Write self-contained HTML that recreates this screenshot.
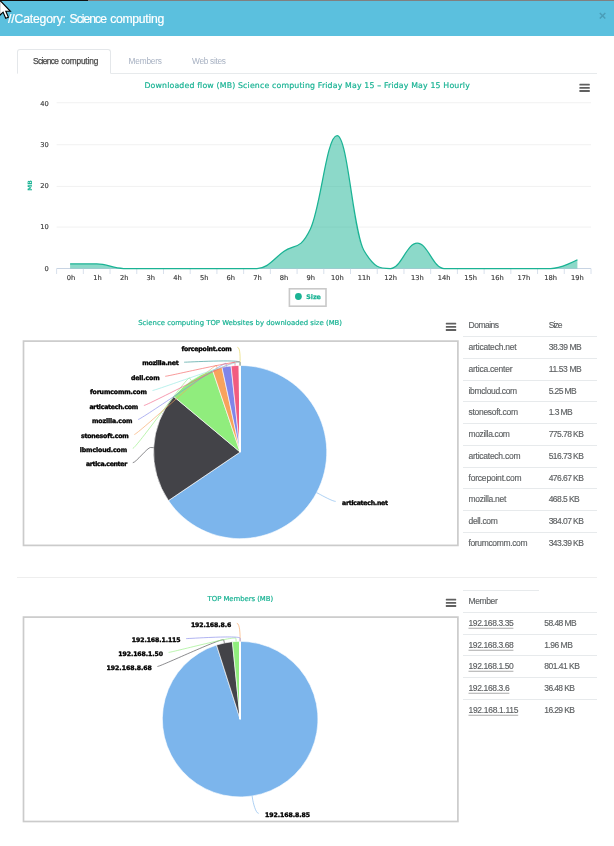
<!DOCTYPE html><html><head><meta charset="utf-8"><title>Category: Science computing</title><style>
html,body{margin:0;padding:0;background:#fff;}body{width:614px;height:846px;position:relative;overflow:hidden;font-family:"Liberation Sans", sans-serif;}
.t{position:absolute;white-space:nowrap;line-height:1;transform:translateY(-50%);}
.l{position:absolute;height:0;border-top:1px solid #e7eaec;}
svg{position:absolute;left:0;top:0;}
</style></head><body>
<div style="position:absolute;left:0;top:0;width:614px;height:1.3px;background:#808080"></div><div style="position:absolute;left:0;top:0;width:88px;height:1.3px;background:#111"></div>
<div style="position:absolute;left:0;top:1.3px;width:614px;height:34.8px;background:#5bc0de"></div>
<div style="position:absolute;left:17px;top:73px;width:580px;height:0;border-top:1px solid #e7eaec"></div>
<div style="position:absolute;left:17px;top:48.8px;width:91.6px;height:23.2px;border:1px solid #e4e7ea;border-bottom:1px solid #fff;border-radius:3px 3px 0 0;background:#fff"></div>
<div class="l" style="left:463.3px;top:336.30px;width:133.6px;"></div>
<div class="l" style="left:463.3px;top:358.02px;width:133.6px;"></div>
<div class="l" style="left:463.3px;top:379.74px;width:133.6px;"></div>
<div class="l" style="left:463.3px;top:401.46px;width:133.6px;"></div>
<div class="l" style="left:463.3px;top:423.18px;width:133.6px;"></div>
<div class="l" style="left:463.3px;top:444.90px;width:133.6px;"></div>
<div class="l" style="left:463.3px;top:466.62px;width:133.6px;"></div>
<div class="l" style="left:463.3px;top:488.34px;width:133.6px;"></div>
<div class="l" style="left:463.3px;top:510.06px;width:133.6px;"></div>
<div class="l" style="left:463.3px;top:531.78px;width:133.6px;"></div>
<div class="l" style="left:463.3px;top:590px;width:75.3px"></div>
<div class="l" style="left:463.3px;top:612.00px;width:133.6px;"></div>
<div class="l" style="left:463.3px;top:633.72px;width:133.6px;"></div>
<div class="l" style="left:463.3px;top:655.44px;width:133.6px;"></div>
<div class="l" style="left:463.3px;top:677.16px;width:133.6px;"></div>
<div class="l" style="left:463.3px;top:698.88px;width:133.6px;"></div>
<div class="l" style="left:17px;top:577px;width:580px;border-top-color:#eee"></div>
<svg width="614" height="846" viewBox="0 0 614 846">
<path d="M56.6 102.75 H591" stroke="#f1f1f1" stroke-width="1" fill="none"/>
<path d="M56.6 144.75 H591" stroke="#f1f1f1" stroke-width="1" fill="none"/>
<path d="M56.6 186.4 H591" stroke="#f1f1f1" stroke-width="1" fill="none"/>
<path d="M56.6 227.1 H591" stroke="#f1f1f1" stroke-width="1" fill="none"/>
<path d="M56.6 268.5 H591" stroke="#c8d4e3" stroke-width="1" fill="none"/>
<path d="M56.60 268.5 V274" stroke="#d8e0ec" stroke-width="1" fill="none"/>
<path d="M83.32 268.5 V274" stroke="#d8e0ec" stroke-width="1" fill="none"/>
<path d="M110.04 268.5 V274" stroke="#d8e0ec" stroke-width="1" fill="none"/>
<path d="M136.76 268.5 V274" stroke="#d8e0ec" stroke-width="1" fill="none"/>
<path d="M163.48 268.5 V274" stroke="#d8e0ec" stroke-width="1" fill="none"/>
<path d="M190.20 268.5 V274" stroke="#d8e0ec" stroke-width="1" fill="none"/>
<path d="M216.92 268.5 V274" stroke="#d8e0ec" stroke-width="1" fill="none"/>
<path d="M243.64 268.5 V274" stroke="#d8e0ec" stroke-width="1" fill="none"/>
<path d="M270.36 268.5 V274" stroke="#d8e0ec" stroke-width="1" fill="none"/>
<path d="M297.08 268.5 V274" stroke="#d8e0ec" stroke-width="1" fill="none"/>
<path d="M323.80 268.5 V274" stroke="#d8e0ec" stroke-width="1" fill="none"/>
<path d="M350.52 268.5 V274" stroke="#d8e0ec" stroke-width="1" fill="none"/>
<path d="M377.24 268.5 V274" stroke="#d8e0ec" stroke-width="1" fill="none"/>
<path d="M403.96 268.5 V274" stroke="#d8e0ec" stroke-width="1" fill="none"/>
<path d="M430.68 268.5 V274" stroke="#d8e0ec" stroke-width="1" fill="none"/>
<path d="M457.40 268.5 V274" stroke="#d8e0ec" stroke-width="1" fill="none"/>
<path d="M484.12 268.5 V274" stroke="#d8e0ec" stroke-width="1" fill="none"/>
<path d="M510.84 268.5 V274" stroke="#d8e0ec" stroke-width="1" fill="none"/>
<path d="M537.56 268.5 V274" stroke="#d8e0ec" stroke-width="1" fill="none"/>
<path d="M564.28 268.5 V274" stroke="#d8e0ec" stroke-width="1" fill="none"/>
<path d="M591.00 268.5 V274" stroke="#d8e0ec" stroke-width="1" fill="none"/>
<path d="M 70.10 263.94 C 70.10 263.94 86.12 263.94 96.80 263.94 C 107.48 263.94 112.82 268.50 123.50 268.50 C 134.18 268.50 139.52 268.50 150.20 268.50 C 160.88 268.50 166.22 268.50 176.90 268.50 C 187.58 268.50 192.92 268.50 203.60 268.50 C 214.28 268.50 219.62 268.50 230.30 268.50 C 240.98 268.50 246.32 268.50 257.00 268.50 C 267.68 268.50 273.02 259.37 283.70 251.49 C 294.38 243.60 299.72 251.49 310.40 229.07 C 321.08 206.66 326.42 135.70 337.10 135.70 C 347.78 135.70 353.12 231.98 363.80 250.24 C 374.48 268.50 379.82 268.50 390.50 268.50 C 401.18 268.50 406.52 243.19 417.20 243.19 C 427.88 243.19 433.22 268.50 443.90 268.50 C 454.58 268.50 459.92 268.50 470.60 268.50 C 481.28 268.50 486.62 268.50 497.30 268.50 C 507.98 268.50 513.32 268.50 524.00 268.50 C 534.68 268.50 540.02 268.50 550.70 268.50 C 561.38 268.50 577.40 259.79 577.40 259.79 L 577.40 268.5 L 70.10 268.5 Z" fill="#1ab394" fill-opacity="0.5" stroke="none"/>
<path d="M 70.10 263.94 C 70.10 263.94 86.12 263.94 96.80 263.94 C 107.48 263.94 112.82 268.50 123.50 268.50 C 134.18 268.50 139.52 268.50 150.20 268.50 C 160.88 268.50 166.22 268.50 176.90 268.50 C 187.58 268.50 192.92 268.50 203.60 268.50 C 214.28 268.50 219.62 268.50 230.30 268.50 C 240.98 268.50 246.32 268.50 257.00 268.50 C 267.68 268.50 273.02 259.37 283.70 251.49 C 294.38 243.60 299.72 251.49 310.40 229.07 C 321.08 206.66 326.42 135.70 337.10 135.70 C 347.78 135.70 353.12 231.98 363.80 250.24 C 374.48 268.50 379.82 268.50 390.50 268.50 C 401.18 268.50 406.52 243.19 417.20 243.19 C 427.88 243.19 433.22 268.50 443.90 268.50 C 454.58 268.50 459.92 268.50 470.60 268.50 C 481.28 268.50 486.62 268.50 497.30 268.50 C 507.98 268.50 513.32 268.50 524.00 268.50 C 534.68 268.50 540.02 268.50 550.70 268.50 C 561.38 268.50 577.40 259.79 577.40 259.79" fill="none" stroke="#1ab394" stroke-width="1.25" stroke-linejoin="round"/>
<rect x="289.4" y="288.8" width="36.6" height="17.4" fill="#fff" stroke="#c9c9c9" stroke-width="1.6"/>
<circle cx="298.4" cy="296.5" r="3.4" fill="#1ab394"/>
<rect x="579.4" y="83.69999999999999" width="10.4" height="1.8" rx="0.5" fill="#606060"/>
<rect x="579.4" y="86.89999999999999" width="10.4" height="1.8" rx="0.5" fill="#606060"/>
<rect x="579.4" y="90.1" width="10.4" height="1.8" rx="0.5" fill="#606060"/>
<rect x="445.8" y="322.70000000000005" width="10.4" height="1.8" rx="0.5" fill="#606060"/>
<rect x="445.8" y="325.90000000000003" width="10.4" height="1.8" rx="0.5" fill="#606060"/>
<rect x="445.8" y="329.1" width="10.4" height="1.8" rx="0.5" fill="#606060"/>
<rect x="445.8" y="598.7" width="10.4" height="1.8" rx="0.5" fill="#606060"/>
<rect x="445.8" y="601.9000000000001" width="10.4" height="1.8" rx="0.5" fill="#606060"/>
<rect x="445.8" y="605.1" width="10.4" height="1.8" rx="0.5" fill="#606060"/>
<text x="0" y="0" transform="translate(31.7,185.4) rotate(-90)" text-anchor="middle" font-family='"DejaVu Sans", sans-serif' font-size="6" fill="#1ab394" font-weight="700">MB</text>
<rect x="23.5" y="341.1" width="434.4" height="204.3" fill="#fff" stroke="#cbcbcb" stroke-width="1.7"/>
<rect x="23.5" y="617.1" width="434.4" height="204.4" fill="#fff" stroke="#cbcbcb" stroke-width="1.7"/>
<path d="M240.15 452.05 L240.15 365.45 A86.6 86.6 0 1 1 168.44 500.60 Z" fill="#7cb5ec" stroke="#fff" stroke-width="0.62" stroke-linejoin="round"/>
<path d="M240.15 452.05 L168.44 500.60 A86.6 86.6 0 0 1 173.71 396.50 Z" fill="#434348" stroke="#fff" stroke-width="0.62" stroke-linejoin="round"/>
<path d="M240.15 452.05 L173.71 396.50 A86.6 86.6 0 0 1 212.53 369.97 Z" fill="#90ed7d" stroke="#fff" stroke-width="0.62" stroke-linejoin="round"/>
<path d="M240.15 452.05 L212.53 369.97 A86.6 86.6 0 0 1 222.00 367.37 Z" fill="#f7a35c" stroke="#fff" stroke-width="0.62" stroke-linejoin="round"/>
<path d="M240.15 452.05 L222.00 367.37 A86.6 86.6 0 0 1 231.10 365.92 Z" fill="#8085e9" stroke="#fff" stroke-width="0.62" stroke-linejoin="round"/>
<path d="M240.15 452.05 L231.10 365.92 A86.6 86.6 0 0 1 239.09 365.46 Z" fill="#f15c80" stroke="#fff" stroke-width="0.62" stroke-linejoin="round"/>
<path d="M240.15 452.05 L239.09 365.46 A86.6 86.6 0 0 1 239.39 365.45 Z" fill="#e4d354" stroke="#fff" stroke-width="0.62" stroke-linejoin="round"/>
<path d="M240.15 452.05 L239.39 365.45 A86.6 86.6 0 0 1 239.62 365.45 Z" fill="#2b908f" stroke="#fff" stroke-width="0.62" stroke-linejoin="round"/>
<path d="M240.15 452.05 L239.62 365.45 A86.6 86.6 0 0 1 239.85 365.45 Z" fill="#f45b5b" stroke="#fff" stroke-width="0.62" stroke-linejoin="round"/>
<path d="M240.15 452.05 L239.85 365.45 A86.6 86.6 0 0 1 240.07 365.45 Z" fill="#91e8e1" stroke="#fff" stroke-width="0.62" stroke-linejoin="round"/>
<path d="M240.00 452.05 V365.25" stroke="#fff" stroke-width="1.9" fill="none"/>
<path d="M335.70 501.40 C332.60 501.40 322.13 495.55 319.39 494.09 L316.65 492.64" fill="none" stroke="#7cb5ec" stroke-width="0.62"/>
<path d="M132.80 462.70 C135.90 462.70 147.47 447.35 150.56 447.51 L153.66 447.67" fill="none" stroke="#434348" stroke-width="0.62"/>
<path d="M132.80 448.40 C135.90 448.40 187.79 375.43 189.54 377.99 L191.29 380.55" fill="none" stroke="#90ed7d" stroke-width="0.62"/>
<path d="M134.30 434.50 C137.40 434.50 215.58 362.56 216.41 365.55 L217.23 368.54" fill="none" stroke="#f7a35c" stroke-width="0.62"/>
<path d="M138.10 419.50 C141.20 419.50 225.55 360.41 226.04 363.47 L226.53 366.53" fill="none" stroke="#8085e9" stroke-width="0.62"/>
<path d="M143.90 405.50 C147.00 405.50 234.73 359.41 234.91 362.50 L235.09 365.60" fill="none" stroke="#f15c80" stroke-width="0.62"/>
<path d="M237.40 347.30 C240.50 347.30 240.10 359.25 240.10 362.35 L240.10 365.45" fill="none" stroke="#e4d354" stroke-width="0.62"/>
<path d="M184.20 362.20 C187.30 362.20 240.10 359.25 240.10 362.35 L240.10 365.45" fill="none" stroke="#2b908f" stroke-width="0.62"/>
<path d="M165.20 376.30 C168.30 376.30 240.10 359.25 240.10 362.35 L240.10 365.45" fill="none" stroke="#f45b5b" stroke-width="0.62"/>
<path d="M152.50 390.50 C155.60 390.50 240.10 359.25 240.10 362.35 L240.10 365.45" fill="none" stroke="#91e8e1" stroke-width="0.62"/>
<path d="M240.15 719.15 L240.15 641.35 A77.8 77.8 0 1 1 216.50 645.03 Z" fill="#7cb5ec" stroke="#fff" stroke-width="0.62" stroke-linejoin="round"/>
<path d="M240.15 719.15 L216.50 645.03 A77.8 77.8 0 0 1 232.42 641.73 Z" fill="#434348" stroke="#fff" stroke-width="0.62" stroke-linejoin="round"/>
<path d="M240.15 719.15 L232.42 641.73 A77.8 77.8 0 0 1 239.81 641.35 Z" fill="#90ed7d" stroke="#fff" stroke-width="0.62" stroke-linejoin="round"/>
<path d="M240.15 719.15 L239.81 641.35 A77.8 77.8 0 0 1 239.95 641.35 Z" fill="#f7a35c" stroke="#fff" stroke-width="0.62" stroke-linejoin="round"/>
<path d="M240.15 719.15 L239.95 641.35 A77.8 77.8 0 0 1 240.08 641.35 Z" fill="#8085e9" stroke="#fff" stroke-width="0.62" stroke-linejoin="round"/>
<path d="M240.00 719.15 V641.15" stroke="#fff" stroke-width="1.9" fill="none"/>
<path d="M258.70 813.40 C255.60 813.40 253.07 802.15 252.60 799.09 L252.12 796.02" fill="none" stroke="#7cb5ec" stroke-width="0.62"/>
<path d="M157.40 666.50 C160.50 666.50 223.12 636.90 223.74 639.93 L224.37 642.97" fill="none" stroke="#434348" stroke-width="0.62"/>
<path d="M168.60 652.40 C171.70 652.40 235.79 635.26 235.95 638.36 L236.11 641.45" fill="none" stroke="#90ed7d" stroke-width="0.62"/>
<path d="M236.80 623.30 C239.90 623.30 240.11 635.15 240.11 638.25 L240.11 641.35" fill="none" stroke="#f7a35c" stroke-width="0.62"/>
<path d="M186.20 638.60 C189.30 638.60 240.11 635.15 240.11 638.25 L240.11 641.35" fill="none" stroke="#8085e9" stroke-width="0.62"/>
<path d="M-0.4 0 L-0.4 15.5 L3.1 12.2 L5.7 18.3 L8.4 17.2 L5.8 11.3 L10.4 11.3 Z" fill="#fff" stroke="#000" stroke-width="1.1" stroke-linejoin="miter"/>
</svg>
<span class="t" id="t0" style='top:18.70px;font-size:12.2px;font-weight:400;color:#ffffff;font-family:"Liberation Sans", sans-serif;left:8.10px;letter-spacing:-0.173px;-webkit-text-stroke:0.2px #fff;'>//Category:</span>
<span class="t" id="t1" style='top:18.70px;font-size:12.2px;font-weight:400;color:#ffffff;font-family:"Liberation Sans", sans-serif;left:69.60px;letter-spacing:-0.993px;-webkit-text-stroke:0.2px #fff;'>Science</span>
<span class="t" id="t2" style='top:18.70px;font-size:12.2px;font-weight:400;color:#ffffff;font-family:"Liberation Sans", sans-serif;left:110.20px;letter-spacing:-0.279px;-webkit-text-stroke:0.2px #fff;'>computing</span>
<span class="t" id="t3" style='top:14.90px;font-size:13px;font-weight:700;color:#4a9db8;font-family:"Liberation Sans", sans-serif;left:598.80px;'>×</span>
<span class="t" id="t4" style='top:61.20px;font-size:8.3px;font-weight:400;color:#4a4a4a;font-family:"Liberation Sans", sans-serif;left:33.10px;letter-spacing:-0.622px;-webkit-text-stroke:0.25px #4a4a4a;'>Science</span>
<span class="t" id="t5" style='top:61.20px;font-size:8.3px;font-weight:400;color:#4a4a4a;font-family:"Liberation Sans", sans-serif;left:61.20px;letter-spacing:-0.148px;-webkit-text-stroke:0.25px #4a4a4a;'>computing</span>
<span class="t" id="t6" style='top:61.00px;font-size:8.3px;font-weight:400;color:#a7b1c2;font-family:"Liberation Sans", sans-serif;left:128.50px;letter-spacing:-0.180px;'>Members</span>
<span class="t" id="t7" style='top:61.00px;font-size:8.3px;font-weight:400;color:#a7b1c2;font-family:"Liberation Sans", sans-serif;left:192.00px;letter-spacing:-0.285px;'>Web sites</span>
<span class="t" id="t8" style='top:85.80px;font-size:7.8px;font-weight:400;color:#1ab394;font-family:"DejaVu Sans", "Liberation Sans", sans-serif;left:144.40px;letter-spacing:0.165px;-webkit-text-stroke:0.2px #1ab394;'>Downloaded flow (MB) Science computing Friday May 15 – Friday May 15 Hourly</span>
<span class="t" id="t9" style='top:103.90px;font-size:6.7px;font-weight:400;color:#3a3a3a;font-family:"DejaVu Sans", "Liberation Sans", sans-serif;right:565.30px;-webkit-text-stroke:0.15px #3a3a3a;'>40</span>
<span class="t" id="t10" style='top:145.10px;font-size:6.7px;font-weight:400;color:#3a3a3a;font-family:"DejaVu Sans", "Liberation Sans", sans-serif;right:565.30px;-webkit-text-stroke:0.15px #3a3a3a;'>30</span>
<span class="t" id="t11" style='top:186.20px;font-size:6.7px;font-weight:400;color:#3a3a3a;font-family:"DejaVu Sans", "Liberation Sans", sans-serif;right:565.30px;-webkit-text-stroke:0.15px #3a3a3a;'>20</span>
<span class="t" id="t12" style='top:227.20px;font-size:6.7px;font-weight:400;color:#3a3a3a;font-family:"DejaVu Sans", "Liberation Sans", sans-serif;right:565.30px;-webkit-text-stroke:0.15px #3a3a3a;'>10</span>
<span class="t" id="t13" style='top:268.60px;font-size:6.7px;font-weight:400;color:#3a3a3a;font-family:"DejaVu Sans", "Liberation Sans", sans-serif;right:565.30px;-webkit-text-stroke:0.15px #3a3a3a;'>0</span>
<span class="t" id="t14" style='top:277.70px;font-size:6.7px;font-weight:400;color:#3a3a3a;font-family:"DejaVu Sans", "Liberation Sans", sans-serif;left:70.90px;transform:translate(-50%,-50%);-webkit-text-stroke:0.15px #3a3a3a;'>0h</span>
<span class="t" id="t15" style='top:277.70px;font-size:6.7px;font-weight:400;color:#3a3a3a;font-family:"DejaVu Sans", "Liberation Sans", sans-serif;left:97.55px;transform:translate(-50%,-50%);-webkit-text-stroke:0.15px #3a3a3a;'>1h</span>
<span class="t" id="t16" style='top:277.70px;font-size:6.7px;font-weight:400;color:#3a3a3a;font-family:"DejaVu Sans", "Liberation Sans", sans-serif;left:124.20px;transform:translate(-50%,-50%);-webkit-text-stroke:0.15px #3a3a3a;'>2h</span>
<span class="t" id="t17" style='top:277.70px;font-size:6.7px;font-weight:400;color:#3a3a3a;font-family:"DejaVu Sans", "Liberation Sans", sans-serif;left:150.85px;transform:translate(-50%,-50%);-webkit-text-stroke:0.15px #3a3a3a;'>3h</span>
<span class="t" id="t18" style='top:277.70px;font-size:6.7px;font-weight:400;color:#3a3a3a;font-family:"DejaVu Sans", "Liberation Sans", sans-serif;left:177.50px;transform:translate(-50%,-50%);-webkit-text-stroke:0.15px #3a3a3a;'>4h</span>
<span class="t" id="t19" style='top:277.70px;font-size:6.7px;font-weight:400;color:#3a3a3a;font-family:"DejaVu Sans", "Liberation Sans", sans-serif;left:204.15px;transform:translate(-50%,-50%);-webkit-text-stroke:0.15px #3a3a3a;'>5h</span>
<span class="t" id="t20" style='top:277.70px;font-size:6.7px;font-weight:400;color:#3a3a3a;font-family:"DejaVu Sans", "Liberation Sans", sans-serif;left:230.80px;transform:translate(-50%,-50%);-webkit-text-stroke:0.15px #3a3a3a;'>6h</span>
<span class="t" id="t21" style='top:277.70px;font-size:6.7px;font-weight:400;color:#3a3a3a;font-family:"DejaVu Sans", "Liberation Sans", sans-serif;left:257.45px;transform:translate(-50%,-50%);-webkit-text-stroke:0.15px #3a3a3a;'>7h</span>
<span class="t" id="t22" style='top:277.70px;font-size:6.7px;font-weight:400;color:#3a3a3a;font-family:"DejaVu Sans", "Liberation Sans", sans-serif;left:284.10px;transform:translate(-50%,-50%);-webkit-text-stroke:0.15px #3a3a3a;'>8h</span>
<span class="t" id="t23" style='top:277.70px;font-size:6.7px;font-weight:400;color:#3a3a3a;font-family:"DejaVu Sans", "Liberation Sans", sans-serif;left:310.75px;transform:translate(-50%,-50%);-webkit-text-stroke:0.15px #3a3a3a;'>9h</span>
<span class="t" id="t24" style='top:277.70px;font-size:6.7px;font-weight:400;color:#3a3a3a;font-family:"DejaVu Sans", "Liberation Sans", sans-serif;left:337.40px;transform:translate(-50%,-50%);-webkit-text-stroke:0.15px #3a3a3a;'>10h</span>
<span class="t" id="t25" style='top:277.70px;font-size:6.7px;font-weight:400;color:#3a3a3a;font-family:"DejaVu Sans", "Liberation Sans", sans-serif;left:364.05px;transform:translate(-50%,-50%);-webkit-text-stroke:0.15px #3a3a3a;'>11h</span>
<span class="t" id="t26" style='top:277.70px;font-size:6.7px;font-weight:400;color:#3a3a3a;font-family:"DejaVu Sans", "Liberation Sans", sans-serif;left:390.70px;transform:translate(-50%,-50%);-webkit-text-stroke:0.15px #3a3a3a;'>12h</span>
<span class="t" id="t27" style='top:277.70px;font-size:6.7px;font-weight:400;color:#3a3a3a;font-family:"DejaVu Sans", "Liberation Sans", sans-serif;left:417.35px;transform:translate(-50%,-50%);-webkit-text-stroke:0.15px #3a3a3a;'>13h</span>
<span class="t" id="t28" style='top:277.70px;font-size:6.7px;font-weight:400;color:#3a3a3a;font-family:"DejaVu Sans", "Liberation Sans", sans-serif;left:444.00px;transform:translate(-50%,-50%);-webkit-text-stroke:0.15px #3a3a3a;'>14h</span>
<span class="t" id="t29" style='top:277.70px;font-size:6.7px;font-weight:400;color:#3a3a3a;font-family:"DejaVu Sans", "Liberation Sans", sans-serif;left:470.65px;transform:translate(-50%,-50%);-webkit-text-stroke:0.15px #3a3a3a;'>15h</span>
<span class="t" id="t30" style='top:277.70px;font-size:6.7px;font-weight:400;color:#3a3a3a;font-family:"DejaVu Sans", "Liberation Sans", sans-serif;left:497.30px;transform:translate(-50%,-50%);-webkit-text-stroke:0.15px #3a3a3a;'>16h</span>
<span class="t" id="t31" style='top:277.70px;font-size:6.7px;font-weight:400;color:#3a3a3a;font-family:"DejaVu Sans", "Liberation Sans", sans-serif;left:523.95px;transform:translate(-50%,-50%);-webkit-text-stroke:0.15px #3a3a3a;'>17h</span>
<span class="t" id="t32" style='top:277.70px;font-size:6.7px;font-weight:400;color:#3a3a3a;font-family:"DejaVu Sans", "Liberation Sans", sans-serif;left:550.60px;transform:translate(-50%,-50%);-webkit-text-stroke:0.15px #3a3a3a;'>18h</span>
<span class="t" id="t33" style='top:277.70px;font-size:6.7px;font-weight:400;color:#3a3a3a;font-family:"DejaVu Sans", "Liberation Sans", sans-serif;left:577.25px;transform:translate(-50%,-50%);-webkit-text-stroke:0.15px #3a3a3a;'>19h</span>
<span class="t" id="t34" style='top:296.50px;font-size:6.3px;font-weight:700;color:#1ab394;font-family:"DejaVu Sans", "Liberation Sans", sans-serif;left:306.20px;letter-spacing:0.020px;-webkit-text-stroke:0.25px #1ab394;'>Size</span>
<span class="t" id="t35" style='top:322.90px;font-size:6.9px;font-weight:400;color:#1ab394;font-family:"DejaVu Sans", "Liberation Sans", sans-serif;left:138.20px;letter-spacing:0.006px;-webkit-text-stroke:0.2px #1ab394;'>Science computing TOP Websites by downloaded size (MB)</span>
<span class="t" id="t36" style='top:598.80px;font-size:6.9px;font-weight:400;color:#1ab394;font-family:"DejaVu Sans", "Liberation Sans", sans-serif;left:207.60px;letter-spacing:-0.044px;-webkit-text-stroke:0.2px #1ab394;'>TOP Members (MB)</span>
<span class="t" id="t37" style='top:325.00px;font-size:8.5px;font-weight:400;color:#5e6163;font-family:"Liberation Sans", sans-serif;left:468.50px;letter-spacing:-0.491px;-webkit-text-stroke:0.15px #5e6163;'>Domains</span>
<span class="t" id="t38" style='top:325.00px;font-size:8.5px;font-weight:400;color:#5e6163;font-family:"Liberation Sans", sans-serif;left:548.70px;letter-spacing:-0.949px;-webkit-text-stroke:0.15px #5e6163;'>Size</span>
<span class="t" id="t39" style='top:347.30px;font-size:8.5px;font-weight:400;color:#5e6163;font-family:"Liberation Sans", sans-serif;left:468.50px;letter-spacing:-0.218px;-webkit-text-stroke:0.15px #5e6163;'>articatech.net</span>
<span class="t" id="t40" style='top:347.30px;font-size:8.5px;font-weight:400;color:#5e6163;font-family:"Liberation Sans", sans-serif;left:548.70px;letter-spacing:-0.470px;-webkit-text-stroke:0.15px #5e6163;'>38.39 MB</span>
<span class="t" id="t41" style='top:369.02px;font-size:8.5px;font-weight:400;color:#5e6163;font-family:"Liberation Sans", sans-serif;left:468.50px;letter-spacing:-0.232px;-webkit-text-stroke:0.15px #5e6163;'>artica.center</span>
<span class="t" id="t42" style='top:369.02px;font-size:8.5px;font-weight:400;color:#5e6163;font-family:"Liberation Sans", sans-serif;left:548.70px;letter-spacing:-0.381px;-webkit-text-stroke:0.15px #5e6163;'>11.53 MB</span>
<span class="t" id="t43" style='top:390.74px;font-size:8.5px;font-weight:400;color:#5e6163;font-family:"Liberation Sans", sans-serif;left:468.50px;letter-spacing:-0.340px;-webkit-text-stroke:0.15px #5e6163;'>ibmcloud.com</span>
<span class="t" id="t44" style='top:390.74px;font-size:8.5px;font-weight:400;color:#5e6163;font-family:"Liberation Sans", sans-serif;left:548.70px;letter-spacing:-0.609px;-webkit-text-stroke:0.15px #5e6163;'>5.25 MB</span>
<span class="t" id="t45" style='top:412.46px;font-size:8.5px;font-weight:400;color:#5e6163;font-family:"Liberation Sans", sans-serif;left:468.50px;letter-spacing:-0.285px;-webkit-text-stroke:0.15px #5e6163;'>stonesoft.com</span>
<span class="t" id="t46" style='top:412.46px;font-size:8.5px;font-weight:400;color:#5e6163;font-family:"Liberation Sans", sans-serif;left:548.70px;letter-spacing:-0.567px;-webkit-text-stroke:0.15px #5e6163;'>1.3 MB</span>
<span class="t" id="t47" style='top:434.18px;font-size:8.5px;font-weight:400;color:#5e6163;font-family:"Liberation Sans", sans-serif;left:468.50px;letter-spacing:-0.348px;-webkit-text-stroke:0.15px #5e6163;'>mozilla.com</span>
<span class="t" id="t48" style='top:434.18px;font-size:8.5px;font-weight:400;color:#5e6163;font-family:"Liberation Sans", sans-serif;left:548.70px;letter-spacing:-0.563px;-webkit-text-stroke:0.15px #5e6163;'>775.78 KB</span>
<span class="t" id="t49" style='top:455.90px;font-size:8.5px;font-weight:400;color:#5e6163;font-family:"Liberation Sans", sans-serif;left:468.50px;letter-spacing:-0.252px;-webkit-text-stroke:0.15px #5e6163;'>articatech.com</span>
<span class="t" id="t50" style='top:455.90px;font-size:8.5px;font-weight:400;color:#5e6163;font-family:"Liberation Sans", sans-serif;left:548.70px;letter-spacing:-0.563px;-webkit-text-stroke:0.15px #5e6163;'>516.73 KB</span>
<span class="t" id="t51" style='top:477.62px;font-size:8.5px;font-weight:400;color:#5e6163;font-family:"Liberation Sans", sans-serif;left:468.50px;letter-spacing:-0.204px;-webkit-text-stroke:0.15px #5e6163;'>forcepoint.com</span>
<span class="t" id="t52" style='top:477.62px;font-size:8.5px;font-weight:400;color:#5e6163;font-family:"Liberation Sans", sans-serif;left:548.70px;letter-spacing:-0.563px;-webkit-text-stroke:0.15px #5e6163;'>476.67 KB</span>
<span class="t" id="t53" style='top:499.34px;font-size:8.5px;font-weight:400;color:#5e6163;font-family:"Liberation Sans", sans-serif;left:468.50px;letter-spacing:-0.284px;-webkit-text-stroke:0.15px #5e6163;'>mozilla.net</span>
<span class="t" id="t54" style='top:499.34px;font-size:8.5px;font-weight:400;color:#5e6163;font-family:"Liberation Sans", sans-serif;left:548.70px;letter-spacing:-0.555px;-webkit-text-stroke:0.15px #5e6163;'>468.5 KB</span>
<span class="t" id="t55" style='top:521.06px;font-size:8.5px;font-weight:400;color:#5e6163;font-family:"Liberation Sans", sans-serif;left:468.50px;letter-spacing:-0.337px;-webkit-text-stroke:0.15px #5e6163;'>dell.com</span>
<span class="t" id="t56" style='top:521.06px;font-size:8.5px;font-weight:400;color:#5e6163;font-family:"Liberation Sans", sans-serif;left:548.70px;letter-spacing:-0.563px;-webkit-text-stroke:0.15px #5e6163;'>384.07 KB</span>
<span class="t" id="t57" style='top:542.78px;font-size:8.5px;font-weight:400;color:#5e6163;font-family:"Liberation Sans", sans-serif;left:468.50px;letter-spacing:-0.358px;-webkit-text-stroke:0.15px #5e6163;'>forumcomm.com</span>
<span class="t" id="t58" style='top:542.78px;font-size:8.5px;font-weight:400;color:#5e6163;font-family:"Liberation Sans", sans-serif;left:548.70px;letter-spacing:-0.563px;-webkit-text-stroke:0.15px #5e6163;'>343.39 KB</span>
<span class="t" id="t59" style='top:601.20px;font-size:8.5px;font-weight:400;color:#5e6163;font-family:"Liberation Sans", sans-serif;left:468.50px;letter-spacing:-0.377px;-webkit-text-stroke:0.15px #5e6163;'>Member</span>
<span class="t" id="t60" style='top:622.90px;font-size:8.5px;font-weight:400;color:#5e6163;font-family:"Liberation Sans", sans-serif;left:468.50px;letter-spacing:-0.395px;-webkit-text-stroke:0.15px #5e6163;text-decoration:underline;text-decoration-color:#aaa;text-underline-offset:2.2px;text-decoration-thickness:0.8px;'>192.168.3.35</span>
<span class="t" id="t61" style='top:622.90px;font-size:8.5px;font-weight:400;color:#5e6163;font-family:"Liberation Sans", sans-serif;left:544.30px;letter-spacing:-0.570px;-webkit-text-stroke:0.15px #5e6163;'>58.48 MB</span>
<span class="t" id="t62" style='top:644.62px;font-size:8.5px;font-weight:400;color:#5e6163;font-family:"Liberation Sans", sans-serif;left:468.50px;letter-spacing:-0.395px;-webkit-text-stroke:0.15px #5e6163;text-decoration:underline;text-decoration-color:#aaa;text-underline-offset:2.2px;text-decoration-thickness:0.8px;'>192.168.3.68</span>
<span class="t" id="t63" style='top:644.62px;font-size:8.5px;font-weight:400;color:#5e6163;font-family:"Liberation Sans", sans-serif;left:544.30px;letter-spacing:-0.526px;-webkit-text-stroke:0.15px #5e6163;'>1.96 MB</span>
<span class="t" id="t64" style='top:666.34px;font-size:8.5px;font-weight:400;color:#5e6163;font-family:"Liberation Sans", sans-serif;left:468.50px;letter-spacing:-0.395px;-webkit-text-stroke:0.15px #5e6163;text-decoration:underline;text-decoration-color:#aaa;text-underline-offset:2.2px;text-decoration-thickness:0.8px;'>192.168.1.50</span>
<span class="t" id="t65" style='top:666.34px;font-size:8.5px;font-weight:400;color:#5e6163;font-family:"Liberation Sans", sans-serif;left:544.30px;letter-spacing:-0.525px;-webkit-text-stroke:0.15px #5e6163;'>801.41 KB</span>
<span class="t" id="t66" style='top:688.06px;font-size:8.5px;font-weight:400;color:#5e6163;font-family:"Liberation Sans", sans-serif;left:468.50px;letter-spacing:-0.371px;-webkit-text-stroke:0.15px #5e6163;text-decoration:underline;text-decoration-color:#aaa;text-underline-offset:2.2px;text-decoration-thickness:0.8px;'>192.168.3.6</span>
<span class="t" id="t67" style='top:688.06px;font-size:8.5px;font-weight:400;color:#5e6163;font-family:"Liberation Sans", sans-serif;left:544.30px;letter-spacing:-0.626px;-webkit-text-stroke:0.15px #5e6163;'>36.48 KB</span>
<span class="t" id="t68" style='top:709.78px;font-size:8.5px;font-weight:400;color:#5e6163;font-family:"Liberation Sans", sans-serif;left:468.50px;letter-spacing:-0.311px;-webkit-text-stroke:0.15px #5e6163;text-decoration:underline;text-decoration-color:#aaa;text-underline-offset:2.2px;text-decoration-thickness:0.8px;'>192.168.1.115</span>
<span class="t" id="t69" style='top:709.78px;font-size:8.5px;font-weight:400;color:#5e6163;font-family:"Liberation Sans", sans-serif;left:544.30px;letter-spacing:-0.626px;-webkit-text-stroke:0.15px #5e6163;'>16.29 KB</span>
<span class="t" id="t70" style='top:348.55px;font-size:6.2px;font-weight:700;color:#000;font-family:"DejaVu Sans", "Liberation Sans", sans-serif;left:181.40px;letter-spacing:-0.181px;text-shadow:0 0 2px #fff,0 0 1px #fff;-webkit-text-stroke:0.35px #000;'>forcepoint.com</span>
<span class="t" id="t71" style='top:363.45px;font-size:6.2px;font-weight:700;color:#000;font-family:"DejaVu Sans", "Liberation Sans", sans-serif;left:142.20px;letter-spacing:-0.235px;text-shadow:0 0 2px #fff,0 0 1px #fff;-webkit-text-stroke:0.35px #000;'>mozilla.net</span>
<span class="t" id="t72" style='top:377.55px;font-size:6.2px;font-weight:700;color:#000;font-family:"DejaVu Sans", "Liberation Sans", sans-serif;left:131.00px;letter-spacing:-0.142px;text-shadow:0 0 2px #fff,0 0 1px #fff;-webkit-text-stroke:0.35px #000;'>dell.com</span>
<span class="t" id="t73" style='top:391.75px;font-size:6.2px;font-weight:700;color:#000;font-family:"DejaVu Sans", "Liberation Sans", sans-serif;left:90.00px;letter-spacing:-0.124px;text-shadow:0 0 2px #fff,0 0 1px #fff;-webkit-text-stroke:0.35px #000;'>forumcomm.com</span>
<span class="t" id="t74" style='top:406.75px;font-size:6.2px;font-weight:700;color:#000;font-family:"DejaVu Sans", "Liberation Sans", sans-serif;left:89.40px;letter-spacing:-0.246px;text-shadow:0 0 2px #fff,0 0 1px #fff;-webkit-text-stroke:0.35px #000;'>articatech.com</span>
<span class="t" id="t75" style='top:420.75px;font-size:6.2px;font-weight:700;color:#000;font-family:"DejaVu Sans", "Liberation Sans", sans-serif;left:92.00px;letter-spacing:-0.106px;text-shadow:0 0 2px #fff,0 0 1px #fff;-webkit-text-stroke:0.35px #000;'>mozilla.com</span>
<span class="t" id="t76" style='top:435.75px;font-size:6.2px;font-weight:700;color:#000;font-family:"DejaVu Sans", "Liberation Sans", sans-serif;left:80.90px;letter-spacing:-0.166px;text-shadow:0 0 2px #fff,0 0 1px #fff;-webkit-text-stroke:0.35px #000;'>stonesoft.com</span>
<span class="t" id="t77" style='top:449.65px;font-size:6.2px;font-weight:700;color:#000;font-family:"DejaVu Sans", "Liberation Sans", sans-serif;left:79.70px;letter-spacing:-0.099px;text-shadow:0 0 2px #fff,0 0 1px #fff;-webkit-text-stroke:0.35px #000;'>ibmcloud.com</span>
<span class="t" id="t78" style='top:463.95px;font-size:6.2px;font-weight:700;color:#000;font-family:"DejaVu Sans", "Liberation Sans", sans-serif;left:86.00px;letter-spacing:-0.315px;text-shadow:0 0 2px #fff,0 0 1px #fff;-webkit-text-stroke:0.35px #000;'>artica.center</span>
<span class="t" id="t79" style='top:502.65px;font-size:6.2px;font-weight:700;color:#000;font-family:"DejaVu Sans", "Liberation Sans", sans-serif;left:342.00px;letter-spacing:-0.254px;text-shadow:0 0 2px #fff,0 0 1px #fff;-webkit-text-stroke:0.35px #000;'>articatech.net</span>
<span class="t" id="t80" style='top:624.55px;font-size:6.2px;font-weight:700;color:#000;font-family:"DejaVu Sans", "Liberation Sans", sans-serif;left:190.90px;letter-spacing:-0.120px;text-shadow:0 0 2px #fff,0 0 1px #fff;-webkit-text-stroke:0.35px #000;'>192.168.8.6</span>
<span class="t" id="t81" style='top:639.85px;font-size:6.2px;font-weight:700;color:#000;font-family:"DejaVu Sans", "Liberation Sans", sans-serif;left:131.80px;letter-spacing:-0.109px;text-shadow:0 0 2px #fff,0 0 1px #fff;-webkit-text-stroke:0.35px #000;'>192.168.1.115</span>
<span class="t" id="t82" style='top:653.65px;font-size:6.2px;font-weight:700;color:#000;font-family:"DejaVu Sans", "Liberation Sans", sans-serif;left:118.30px;letter-spacing:-0.101px;text-shadow:0 0 2px #fff,0 0 1px #fff;-webkit-text-stroke:0.35px #000;'>192.168.1.50</span>
<span class="t" id="t83" style='top:667.75px;font-size:6.2px;font-weight:700;color:#000;font-family:"DejaVu Sans", "Liberation Sans", sans-serif;left:106.60px;letter-spacing:-0.056px;text-shadow:0 0 2px #fff,0 0 1px #fff;-webkit-text-stroke:0.35px #000;'>192.168.8.68</span>
<span class="t" id="t84" style='top:814.65px;font-size:6.2px;font-weight:700;color:#000;font-family:"DejaVu Sans", "Liberation Sans", sans-serif;left:265.00px;letter-spacing:-0.065px;text-shadow:0 0 2px #fff,0 0 1px #fff;-webkit-text-stroke:0.35px #000;'>192.168.8.85</span>
</body></html>
